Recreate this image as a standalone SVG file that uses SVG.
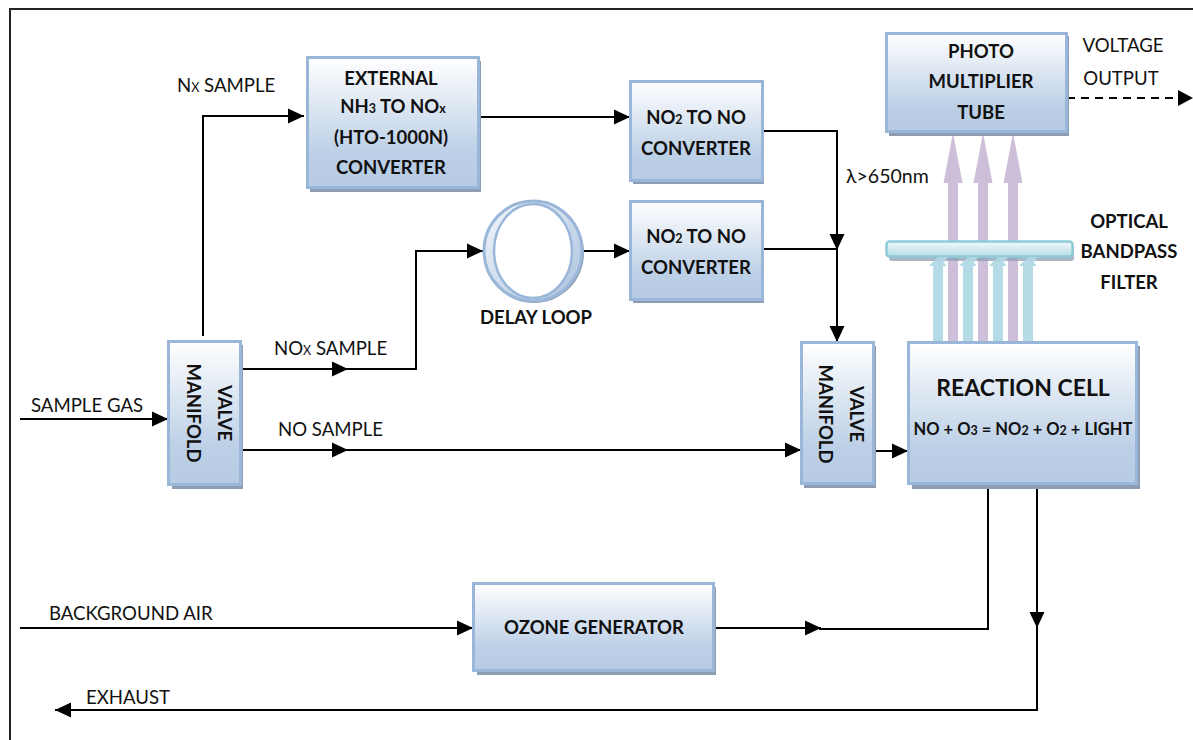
<svg xmlns="http://www.w3.org/2000/svg" width="1193" height="740" viewBox="0 0 1193 740">
<style>
text{font-family:Lato,"Liberation Sans",sans-serif;fill:#111}
.b{font-weight:700;font-size:18.5px;text-anchor:middle}
.l{font-size:18.600px}
.s{fill:#8e9db3}
.box{fill:url(#g);stroke:#9ab6d8;stroke-width:3}
.c{fill:none;stroke:#000;stroke-width:2}
.sub{font-size:12.500px}
</style>
<defs>
<linearGradient id="g" x1="0" y1="0" x2="0" y2="1"><stop offset="0" stop-color="#fff"/><stop offset=".75" stop-color="#bbcfe6"/><stop offset="1" stop-color="#b7cce4"/></linearGradient>
<linearGradient id="f" x1="0" y1="0" x2="0" y2="1"><stop offset="0" stop-color="#f2f9fa"/><stop offset="1" stop-color="#b4dde5"/></linearGradient>
<linearGradient id="r" x1="0" y1="0" x2="1" y2="1"><stop offset="0" stop-color="#f4f7fb"/><stop offset="1" stop-color="#a9c2df"/></linearGradient>
<marker id="a" markerUnits="userSpaceOnUse" markerWidth="17" markerHeight="16" refX="16" refY="8" orient="auto"><path d="M0 .5L16 8L0 15.500Z" fill="#000"/></marker>
</defs>
<path d="M10 740V9H1193" fill="none" stroke="#222" stroke-width="2"/>
<g id="light">
<path fill="#b5dce6" d="M933 342V266H929L938 257L947 266H943V342ZM963 342V266H959L968 257L977 266H973V342ZM993 342V266H989L998 257L1007 266H1003V342ZM1023 342V266H1019L1028 257L1037 266H1033V342Z"/>
<path fill="#cdbfd9" d="M948 342V183H943.500L953 133L962.500 183H958V342ZM978 342V183H973.500L983 133L992.500 183H988V342ZM1008 342V183H1003.500L1013 133L1022.500 183H1018V342Z"/>
</g>
<g id="connectors">
<path class="c" d="M20 419H168" marker-end="url(#a)"/>
<path class="c" d="M203 336V116H304" marker-end="url(#a)"/>
<path class="c" d="M241 369H348" marker-end="url(#a)"/>
<path class="c" d="M346 369H416V251H483" marker-end="url(#a)"/>
<path class="c" d="M241 450H348" marker-end="url(#a)"/>
<path class="c" d="M346 450H801" marker-end="url(#a)"/>
<path class="c" d="M481 117H630" marker-end="url(#a)"/>
<path class="c" d="M584 251H630" marker-end="url(#a)"/>
<path class="c" d="M762 131H837V250" marker-end="url(#a)"/>
<path class="c" d="M763 249H837V342" marker-end="url(#a)"/>
<path class="c" d="M874 451H908" marker-end="url(#a)"/>
<path class="c" d="M20 628H473" marker-end="url(#a)"/>
<path class="c" d="M716 628H821" marker-end="url(#a)"/>
<path class="c" d="M819 629H988V484"/>
<path class="c" d="M1037 489V628" marker-end="url(#a)"/>
<path class="c" d="M1037 626V710H55" marker-end="url(#a)"/>
<path class="c" d="M1067 98H1180" stroke-dasharray="8 6"/>
<path d="M1178 90L1193 98L1178 106Z" fill="#000"/>
</g>
<g id="external"><rect class="s" x="310" y="61" width="171" height="131"/><rect class="box" x="307.500" y="57.500" width="171" height="130"/>
<text class="b" x="391" y="85">EXTERNAL</text><text class="b" x="393" y="113">NH<tspan class="sub">3</tspan> TO NO<tspan class="sub">x</tspan></text><text class="b" x="391" y="144">(HTO-1000N)</text><text class="b" x="391" y="174">CONVERTER</text></g>
<g id="no2a"><rect class="s" x="633" y="84" width="131" height="100"/><rect class="box" x="630.500" y="81.500" width="132" height="99"/>
<text class="b" x="696" y="124">NO<tspan class="sub">2</tspan> TO NO</text><text class="b" x="696" y="155">CONVERTER</text></g>
<g id="no2b"><rect class="s" x="633" y="204" width="131" height="99"/><rect class="box" x="630.500" y="201.500" width="132" height="98"/>
<text class="b" x="696" y="243">NO<tspan class="sub">2</tspan> TO NO</text><text class="b" x="696" y="274">CONVERTER</text></g>
<g id="delay"><ellipse cx="534" cy="253" rx="50" ry="50" fill="#8e9db3"/><ellipse cx="533" cy="251" rx="49" ry="50" fill="url(#r)" stroke="#9ab6d8" stroke-width="3"/><ellipse cx="533" cy="251" rx="39" ry="47" fill="#fff" stroke="#9ab6d8" stroke-width="2.500"/>
<text class="b" x="536" y="324">DELAY LOOP</text></g>
<g id="pmt"><rect class="s" x="889" y="36" width="180" height="100"/><rect class="box" x="886.500" y="33.500" width="180" height="98"/>
<text class="b" x="981" y="58">PHOTO</text><text class="b" x="981" y="88">MULTIPLIER</text><text class="b" x="981" y="119">TUBE</text></g>
<g id="filter"><rect x="889" y="245" width="185" height="16" rx="3" fill="#8e9db3" opacity=".75"/><rect x="886.500" y="241.500" width="186" height="15" rx="3" fill="url(#f)" stroke="#8fcbd8" stroke-width="2.500"/>
<path fill="#b5dce6" d="M933 266H929L938 257H947L943 266ZM963 266H959L968 257H977L973 266ZM993 266H989L998 257H1007L1003 266ZM1023 266H1019L1028 257H1037L1033 266Z" opacity=".8"/></g>
<g id="valve1"><rect class="s" x="172" y="345" width="71" height="144"/><rect class="box" x="168.500" y="341.500" width="72" height="143"/>
<text class="b" transform="translate(224 413) rotate(90)" y="6">VALVE</text><text class="b" transform="translate(193 413) rotate(90)" y="6">MANIFOLD</text></g>
<g id="valve2"><rect class="s" x="804" y="346" width="72" height="142"/><rect class="box" x="801.500" y="342.500" width="72" height="141"/>
<text class="b" transform="translate(856 414) rotate(90)" y="6">VALVE</text><text class="b" transform="translate(825 414) rotate(90)" y="6">MANIFOLD</text></g>
<g id="reaction"><rect class="s" x="912" y="346" width="228" height="143"/><rect class="box" x="908.500" y="342.500" width="228" height="141"/>
<text class="b" style="font-size:23px" x="1023" y="396">REACTION CELL</text><text class="b" style="font-size:16.500px" x="1023" y="435">NO + O<tspan class="sub">3</tspan> = NO<tspan class="sub">2</tspan> + O<tspan class="sub">2</tspan> + LIGHT</text></g>
<g id="ozone"><rect class="s" x="477" y="587" width="239" height="88"/><rect class="box" x="473.500" y="583.500" width="240" height="87"/>
<text class="b" x="594" y="634">OZONE GENERATOR</text></g>
<g id="labels">
<text class="l" x="177" y="92">N<tspan class="sub">X</tspan> SAMPLE</text>
<text class="l" x="274" y="355">NO<tspan class="sub">X</tspan> SAMPLE</text>
<text class="l" x="278" y="436">NO SAMPLE</text>
<text class="l" x="31" y="412">SAMPLE GAS</text>
<text class="l" x="49" y="620">BACKGROUND AIR</text>
<text class="l" x="86" y="704">EXHAUST</text>
<text class="l" style="font-size:19.500px" x="846" y="183">λ&gt;650nm</text>
<text class="l" x="1123" y="52" text-anchor="middle">VOLTAGE</text>
<text class="l" x="1121" y="85" text-anchor="middle">OUTPUT</text>
<text class="b" x="1129" y="228">OPTICAL</text><text class="b" x="1129" y="258">BANDPASS</text><text class="b" x="1129" y="289">FILTER</text>
</g>
</svg>
